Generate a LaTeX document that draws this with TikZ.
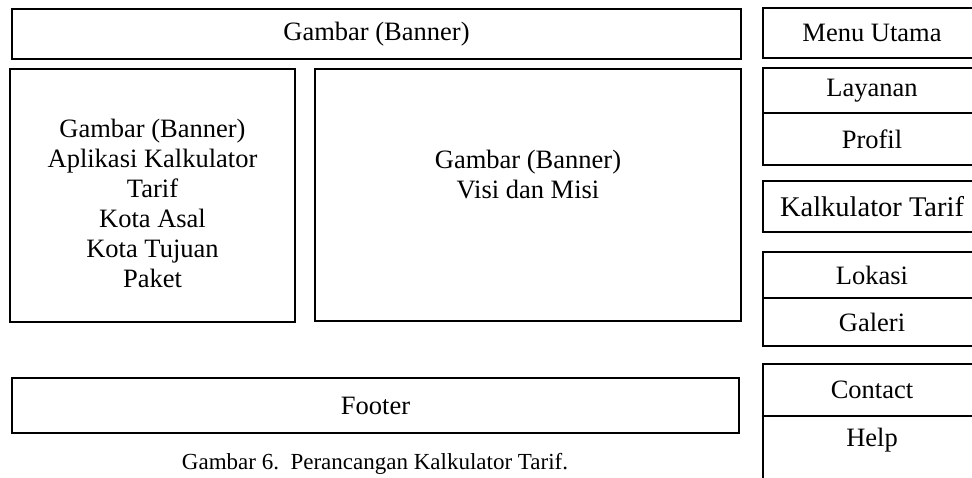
\documentclass[tikz,border=0pt]{standalone}
\usepackage{fontspec}
\setmainfont{Liberation Serif}
\usetikzlibrary{positioning}

\begin{document}
\begin{tikzpicture}[x=1pt, y=-1pt,
    font=\fontsize{26.5}{30}\selectfont,
    box/.style={draw, line width=1.8pt, inner sep=0pt, outer sep=0pt},
    widebox/.style={box, minimum width=729pt, minimum height=50pt},
    menubox/.style={box, minimum width=218pt},
    txt/.style={align=center},
    ]

    \useasboundingbox (0,0) rectangle (972,478);
    \clip (0,0) rectangle (972,478);

    % Header banner
    \node[widebox] (banner) at (376.5,34) {Gambar (Banner)};

    % Left box: calculator
    \node[box, minimum width=285pt, minimum height=253pt] (kalk) at (152.5,195.5) {};
    \node[txt] (kalktext) at (152.5,203) {Gambar (Banner)\\Aplikasi Kalkulator\\Tarif\\Kota Asal\\Kota Tujuan\\Paket};

    % Middle box: vision and mission
    \node[box, minimum width=426pt, minimum height=252pt] (visi) at (528,195) {};
    \node[txt] (visitext) at (528,175) {Gambar (Banner)\\Visi dan Misi};

    % Footer and caption
    \node[box, minimum width=727pt, minimum height=55pt] (footer) at (375.5,405.5) {Footer};
    \node[font=\fontsize{23}{27}\selectfont] (caption) at (375,464) {Gambar 6.\ \ Perancangan Kalkulator Tarif.};

    % Right column: menu
    \node[menubox, minimum height=50pt] (menu) at (872,33) {Menu Utama};
    \node[menubox, minimum height=45pt] (layanan) at (872,90.5) {Layanan};
    \node[menubox, minimum height=52pt, below=0pt of layanan] (profil) {Profil};
    \node[menubox, minimum height=51pt, font=\fontsize{28.5}{32}\selectfont] (tarif) at (872,206.5) {Kalkulator Tarif};
    \node[menubox, minimum height=46pt] (lokasi) at (872,275) {Lokasi};
    \node[menubox, minimum height=48pt, below=0pt of lokasi] (galeri) {Galeri};
    \node[menubox, minimum height=52pt] (contact) at (872,390) {Contact};
    \node[menubox, minimum height=100pt, below=0pt of contact,
        label={[anchor=north, inner sep=0pt, yshift=-12pt]north:Help}] (help) {};

\end{tikzpicture}
\end{document}
